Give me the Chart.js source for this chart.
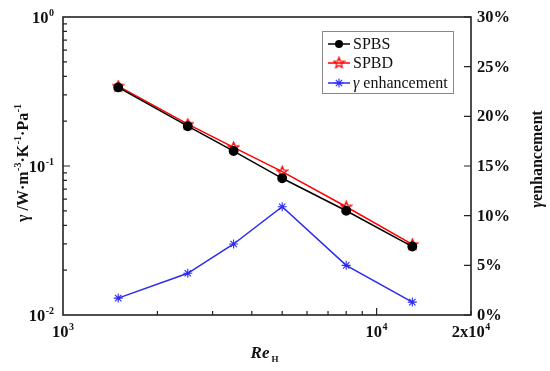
<!DOCTYPE html>
<html>
<head>
<meta charset="utf-8">
<script src="https://cdn.jsdelivr.net/npm/chart.js@4"></script>
<style>
  html, body { margin: 0; padding: 0; background: #fff; }
</style>
</head>
<body>
<canvas id="chart" width="550" height="371"></canvas>
<script>
// data
const reynolds = [1500, 2500, 3500, 5000, 8000, 13000];
const spbs = [0.337, 0.185, 0.126, 0.0827, 0.0501, 0.0288];
const spbd = [0.344, 0.191, 0.1335, 0.0916, 0.0533, 0.0298];
const enhancement = [1.7, 4.2, 7.15, 10.9, 5.0, 1.3]; // percent

const xTicks = [1000, 10000, 20000];
const xTickLabels = [['10', '3'], ['10', '4'], ['2x10', '4']];
const yTicks = [1, 0.1, 0.01];
const yTickLabels = [['10', '0'], ['10', '-1'], ['10', '-2']];
const y2Ticks = [0, 5, 10, 15, 20, 25, 30];
const y2TickLabels = y2Ticks.map(v => v + '%');

const serif = '"Liberation Serif", "Times New Roman", serif';

// hollow five point star for SPBD
function makeStar(color) {
  const c = document.createElement('canvas');
  c.width = 13; c.height = 13;
  const g = c.getContext('2d');
  g.strokeStyle = color;
  g.lineWidth = 1.3;
  g.beginPath();
  for (let i = 0; i < 10; i++) {
    const r = i % 2 === 0 ? 5.5 : 2.4;
    const a = -Math.PI / 2 + i * Math.PI / 5;
    const px = 6.5 + r * Math.cos(a), py = 6.8 + r * Math.sin(a);
    i === 0 ? g.moveTo(px, py) : g.lineTo(px, py);
  }
  g.closePath();
  g.stroke();
  return c;
}
const redStar = makeStar('#ff0000');

function pts(vals) {
  return reynolds.map((x, i) => ({ x: x, y: vals[i] }));
}

// text with a superscript part
function drawSup(g, base, sup, x, y, align, size, supSize, rise) {
  g.font = 'bold ' + size + 'px ' + serif;
  const wb = g.measureText(base).width;
  g.font = 'bold ' + supSize + 'px ' + serif;
  const ws = g.measureText(sup).width;
  const w = wb + ws + 0.5;
  let x0 = x;
  if (align === 'center') x0 = x - w / 2;
  else if (align === 'right') x0 = x - w;
  g.textAlign = 'left';
  g.font = 'bold ' + size + 'px ' + serif;
  g.fillText(base, x0, y);
  g.font = 'bold ' + supSize + 'px ' + serif;
  g.fillText(sup, x0 + wb + 0.5, y - rise);
}

const axesPlugin = {
  id: 'axes',
  afterDraw(chart) {
    const g = chart.ctx;
    const a = chart.chartArea;
    const sx = chart.scales.x, sy = chart.scales.y, sy2 = chart.scales.y2;
    g.save();
    g.strokeStyle = '#222';
    g.fillStyle = '#111';
    g.lineWidth = 1.6;
    g.strokeRect(a.left, a.top, a.right - a.left, a.bottom - a.top);

    g.lineWidth = 1.2;
    g.beginPath();
    // x ticks (inside, pointing up)
    for (let v = 2000; v <= 20000; v += (v < 10000 ? 1000 : 10000)) {
      const px = sx.getPixelForValue(v);
      const len = v === 10000 ? 7 : 4;
      g.moveTo(px, a.bottom); g.lineTo(px, a.bottom - len);
    }
    // left y ticks
    for (const dec of [0.01, 0.1]) {
      for (let k = 1; k <= 9; k++) {
        const v = dec * k;
        if (v === 0.01) continue;
        const py = sy.getPixelForValue(v);
        const len = k === 1 ? 7 : 4;
        g.moveTo(a.left, py); g.lineTo(a.left + len, py);
      }
    }
    // right y ticks
    y2Ticks.forEach(v => {
      const py = sy2.getPixelForValue(v);
      g.moveTo(a.right, py); g.lineTo(a.right - 7, py);
    });
    g.stroke();

    // tick labels
    g.textBaseline = 'alphabetic';
    xTicks.forEach((v, i) => {
      drawSup(g, xTickLabels[i][0], xTickLabels[i][1], sx.getPixelForValue(v), a.bottom + 22, 'center', 16.5, 10, 7);
    });
    yTicks.forEach((v, i) => {
      drawSup(g, yTickLabels[i][0], yTickLabels[i][1], a.left - 9, sy.getPixelForValue(v) + 6, 'right', 16.5, 10, 7);
    });
    g.font = 'bold 16.5px ' + serif;
    g.textAlign = 'left';
    y2Ticks.forEach((v, i) => {
      g.fillText(y2TickLabels[i], a.right + 6, sy2.getPixelForValue(v) + 5);
    });

    // x title: Re_H
    g.font = 'italic bold 17px ' + serif;
    const cx = (a.left + a.right) / 2 - 4;
    const wRe = g.measureText('Re').width;
    g.fillText('Re', cx - wRe / 2 - 3, a.bottom + 43);
    g.font = 'bold 9px ' + serif;
    g.fillText('H', cx + wRe / 2 - 1, a.bottom + 47);

    // left title
    g.save();
    g.translate(22, (a.top + a.bottom) / 2 - 3);
    g.rotate(-Math.PI / 2);
    const parts = [['\u03b3 /W\u00b7m', '-3'], ['\u00b7K', '-1'], ['\u00b7Pa', '-1']];
    let total = 0;
    parts.forEach(p => {
      g.font = 'bold 16px ' + serif; total += g.measureText(p[0]).width;
      g.font = 'bold 10px ' + serif; total += g.measureText(p[1]).width + 0.5;
    });
    let x = -total / 2;
    parts.forEach(p => {
      g.font = 'bold 16px ' + serif;
      g.fillText(p[0], x, 6); x += g.measureText(p[0]).width + 0.5;
      g.font = 'bold 10px ' + serif;
      g.fillText(p[1], x, -1); x += g.measureText(p[1]).width;
    });
    g.restore();

    // right title
    g.save();
    g.translate(537, (a.top + a.bottom) / 2 - 7);
    g.rotate(-Math.PI / 2);
    g.font = 'italic bold 16px ' + serif;
    const wg = g.measureText('\u03b3').width;
    g.font = 'bold 16px ' + serif;
    const we = g.measureText('enhancement').width;
    g.font = 'italic bold 16px ' + serif;
    g.fillText('\u03b3', -(wg + we) / 2, 5);
    g.font = 'bold 16px ' + serif;
    g.fillText('enhancement', -(wg + we) / 2 + wg, 5);
    g.restore();

    // legend box
    g.fillStyle = '#fff';
    g.fillRect(322, 31, 131, 62);
    g.strokeStyle = '#888';
    g.lineWidth = 1;
    g.strokeRect(322.5, 31.5, 131, 62);
    const rows = [44, 63, 83];
    chart.data.datasets.forEach((ds, i) => {
      const y = rows[i];
      g.strokeStyle = ds.borderColor;
      g.lineWidth = 1.5;
      g.beginPath(); g.moveTo(328, y); g.lineTo(350, y); g.stroke();
      if (ds.pointStyle === 'circle') {
        g.fillStyle = ds.borderColor;
        g.beginPath(); g.arc(339, y, 4, 0, Math.PI * 2); g.fill();
      } else if (ds.pointStyle === 'star') {
        g.beginPath();
        for (let k = 0; k < 4; k++) {
          const ang = k * Math.PI / 4;
          g.moveTo(339 - 4.5 * Math.cos(ang), y - 4.5 * Math.sin(ang));
          g.lineTo(339 + 4.5 * Math.cos(ang), y + 4.5 * Math.sin(ang));
        }
        g.lineWidth = 1.1; g.stroke();
      } else {
        g.drawImage(ds.pointStyle, 339 - 6.5, y - 6.8);
      }
      g.fillStyle = '#111';
      g.textAlign = 'left';
      if (i === 2) {
        g.font = 'italic 16px ' + serif;
        g.fillText('\u03b3', 353, y + 5);
        const w = g.measureText('\u03b3 ').width;
        g.font = '16px ' + serif;
        g.fillText('enhancement', 353 + w, y + 5);
      } else {
        g.font = '16px ' + serif;
        g.fillText(ds.label, 353, y + 5);
      }
    });
    g.restore();
  }
};

new Chart(document.getElementById('chart'), {
  type: 'line',
  data: {
    datasets: [
      {
        label: 'SPBS',
        data: pts(spbs),
        yAxisID: 'y',
        borderColor: '#000000',
        backgroundColor: '#000000',
        borderWidth: 1.5,
        pointStyle: 'circle',
        pointRadius: 4.2
      },
      {
        label: 'SPBD',
        data: pts(spbd),
        yAxisID: 'y',
        borderColor: '#ff0000',
        backgroundColor: '#ff0000',
        borderWidth: 1.5,
        pointStyle: redStar,
        pointRadius: 5
      },
      {
        label: '\u03b3 enhancement',
        data: pts(enhancement),
        yAxisID: 'y2',
        borderColor: '#2a2af0',
        backgroundColor: '#2a2af0',
        borderWidth: 1.5,
        pointStyle: 'star',
        pointRadius: 4.5,
        pointBorderWidth: 1.1
      }
    ]
  },
  options: {
    responsive: false,
    animation: false,
    layout: { padding: { left: 63, right: 79, top: 17, bottom: 56 } },
    plugins: {
      legend: { display: false },
      tooltip: { enabled: false }
    },
    scales: {
      x: { type: 'logarithmic', min: 1000, max: 20000, display: false },
      y: { type: 'logarithmic', min: 0.01, max: 1, display: false },
      y2: { type: 'linear', min: 0, max: 30, display: false }
    }
  },
  plugins: [axesPlugin]
});
</script>
</body>
</html>
